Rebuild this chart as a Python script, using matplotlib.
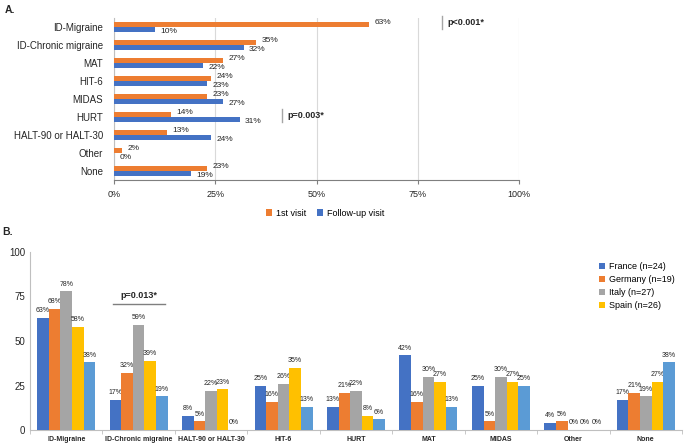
import matplotlib
matplotlib.use("Agg")
import matplotlib.pyplot as plt
import numpy as np

plt.rcParams["font.family"] = "Liberation Sans"

ORANGE, BLUE, GREY, YELLOW, LBLUE = "#ED7D31", "#4472C4", "#A5A5A5", "#FFC000", "#5B9BD5"
AXIS = "#BFBFBF"
TXT = "#262626"

# ---- panel A data
a_cats = ["ID-Migraine", "ID-Chronic migraine", "MAT", "HIT-6", "MIDAS",
          "HURT", "HALT-90 or HALT-30", "Other", "None"]
first_visit = [63, 35, 27, 24, 23, 14, 13, 2, 23]
followup = [10, 32, 22, 23, 27, 31, 24, 0, 19]

# ---- panel B data
b_cats = ["ID-Migraine", "ID-Chronic migraine", "HALT-90 or HALT-30", "HIT-6",
          "HURT", "MAT", "MIDAS", "Other", "None"]
france = [63, 17, 8, 25, 13, 42, 25, 4, 17]
germany = [68, 32, 5, 16, 21, 16, 5, 5, 21]
italy = [78, 59, 22, 26, 22, 30, 30, 0, 19]
spain = [58, 39, 23, 35, 8, 27, 27, 0, 27]
other_c = [38, 19, 0, 13, 6, 13, 25, 0, 38]
b_series = [("France (n=24)", france, BLUE), ("Germany (n=19)", germany, ORANGE),
            ("Italy (n=27)", italy, GREY), ("Spain (n=26)", spain, YELLOW),
            (None, other_c, LBLUE)]

W, H = 685, 445
fig = plt.figure(figsize=(W / 100, H / 100), dpi=100)

# ================= panel A
axA = fig.add_axes([114 / W, 1 - 180 / H, 405 / W, 162 / H])
y = np.arange(len(a_cats))
bh = 0.3
axA.barh(y - bh / 2, first_visit, height=bh, color=ORANGE, label="1st visit", zorder=3)
axA.barh(y + bh / 2, followup, height=bh, color=BLUE, label="Follow-up visit", zorder=3)
for i in range(len(a_cats)):
    axA.annotate(f"{first_visit[i]}%", (first_visit[i], y[i] - bh / 2),
                 xytext=(4, 1), textcoords="offset points", va="center",
                 fontsize=6, color=TXT)
    axA.annotate(f"{followup[i]}%", (followup[i], y[i] + bh / 2),
                 xytext=(4, -1.5), textcoords="offset points", va="center",
                 fontsize=6, color=TXT)
axA.set_xlim(0, 100)
axA.set_ylim(len(a_cats) - 0.5, -0.5)
axA.set_yticks(y)
axA.set_yticklabels(a_cats, fontsize=7, color=TXT)
axA.set_xticks([0, 25, 50, 75, 100])
axA.set_xticklabels(["0%", "25%", "50%", "75%", "100%"], fontsize=6.5, color=TXT)
axA.grid(axis="x", color="#D9D9D9", lw=0.8, zorder=0)
for s in ("top", "right"):
    axA.spines[s].set_visible(False)
axA.spines["left"].set_color(AXIS)
axA.spines["bottom"].set_color("#7F7F7F")
axA.tick_params(axis="y", length=0, pad=8)
axA.tick_params(axis="x", length=3, color="#7F7F7F", pad=4)
# p-value markers
axA.plot([81, 81], [-0.6, 0.1], color=GREY, lw=1, clip_on=False)
axA.text(82.3, -0.25, "p<0.001*", fontsize=6.5, fontweight="bold", va="center", color=TXT)
axA.plot([41.5, 41.5], [4.55, 5.3], color=GREY, lw=1, clip_on=False)
axA.text(42.8, 4.9, "p=0.003*", fontsize=6.5, fontweight="bold", va="center", color=TXT)
axA.legend(loc="center", bbox_to_anchor=(325 / W, 1 - 213 / H), bbox_transform=fig.transFigure,
           ncol=2, frameon=False, fontsize=6.5, handlelength=0.7, handleheight=0.7,
           handletextpad=0.4, columnspacing=1.2)

# ================= panel B
axB = fig.add_axes([30 / W, 1 - 430 / H, 652 / W, 178 / H])
x = np.arange(len(b_cats))
bw = 0.16
for k, (lab, vals, col) in enumerate(b_series):
    xs = x + (k - 2) * bw
    axB.bar(xs, vals, width=bw, color=col, label=lab if lab else "_nolegend_", zorder=3)
    for xi, v in zip(xs, vals):
        axB.text(xi, v + 2, f"{v}%", ha="center", va="bottom", fontsize=5, color=TXT)
axB.set_xlim(-0.5, len(b_cats) - 0.5)
axB.set_ylim(0, 100)
axB.set_yticks([0, 25, 50, 75, 100])
axB.tick_params(axis="y", labelsize=7, length=0, colors=TXT)
axB.set_xticks(x)
axB.set_xticklabels(b_cats, fontsize=5, fontweight="bold", color=TXT)
axB.set_xticks(np.arange(len(b_cats) + 1) - 0.5, minor=True)
axB.tick_params(axis="x", which="major", length=0, pad=4)
axB.tick_params(axis="x", which="minor", length=3, color=AXIS)
for s in ("top", "right"):
    axB.spines[s].set_visible(False)
axB.spines["left"].set_color(AXIS)
axB.spines["bottom"].set_color(AXIS)
axB.plot([0.64, 1.36], [71, 71], color="#7F7F7F", lw=1)
axB.text(1.0, 73, "p=0.013*", ha="center", va="bottom", fontsize=6.5, fontweight="bold", color=TXT)
axB.legend(loc="upper left", bbox_to_anchor=(599 / W, 1 - 262 / H), bbox_transform=fig.transFigure,
           frameon=False, fontsize=6.5, handlelength=0.7, handleheight=0.7,
           handletextpad=0.4, labelspacing=0.45, borderaxespad=0, borderpad=0)

fig.text(5 / W, 1 - 10 / H, "A.", fontsize=7.5, fontweight="bold", va="center", color=TXT)
fig.text(2 / W, 1 - 232 / H, "B.", fontsize=7.5, fontweight="bold", va="center", color=TXT)

fig.savefig("out.png", dpi=100)
